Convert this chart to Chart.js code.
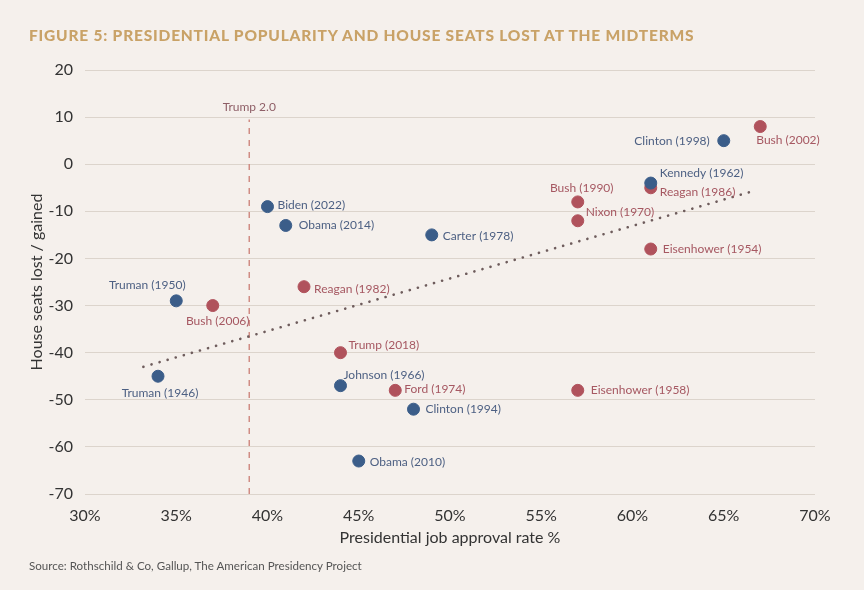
<!DOCTYPE html>
<html>
<head>
<meta charset="utf-8">
<script src="https://cdn.jsdelivr.net/npm/chart.js@4"></script>
<style>
  html, body { margin:0; padding:0; background:#f5f0ec; }
  #wrap { position:relative; width:864px; height:590px; overflow:hidden; }
  #title { position:absolute; left:29px; top:26px; font-family:Lato, sans-serif; font-weight:900; font-size:15.5px; letter-spacing:0.8px; color:#c9a267; white-space:nowrap; }
  #source { position:absolute; left:29px; top:559px; font-family:Lato, sans-serif; font-size:11.6px; color:#555; white-space:nowrap; }
  canvas { position:absolute; left:0; top:0; }
</style>
</head>
<body>
<div id="wrap">
  <canvas id="c" width="864" height="590"></canvas>
  <div id="title">FIGURE 5: PRESIDENTIAL POPULARITY AND HOUSE SEATS LOST AT THE MIDTERMS</div>
  <div id="source">Source: Rothschild &amp; Co, Gallup, The American Presidency Project</div>
</div>
<script>
// ---- data ----
const names = ['Truman (1946)','Truman (1950)','Eisenhower (1954)','Eisenhower (1958)','Kennedy (1962)','Johnson (1966)','Nixon (1970)','Ford (1974)','Carter (1978)','Reagan (1982)','Reagan (1986)','Bush (1990)','Clinton (1994)','Clinton (1998)','Bush (2002)','Bush (2006)','Obama (2010)','Obama (2014)','Trump (2018)','Biden (2022)'];
const approval = [34, 35, 61, 57, 61, 44, 57, 47, 49, 42, 61, 57, 48, 65, 67, 37, 45, 41, 44, 40];
const seats    = [-45, -29, -18, -48, -4, -47, -12, -48, -15, -26, -5, -8, -52, 5, 8, -30, -63, -13, -40, -9];
const party    = ['D','D','R','R','D','D','R','R','D','R','R','R','D','D','R','R','D','D','R','D'];
const trendX = [33.2, 66.8];
const trendY = [-43, -5.5];
const trump2X = 39;
const trump2Y = [-70, 9.5];
const trump2Label = 'Trump 2.0';
const xTicks = [30, 35, 40, 45, 50, 55, 60, 65, 70];
const yTicks = [20, 10, 0, -10, -20, -30, -40, -50, -60, -70];

// ---- label placement (style) ----
const place = {
  'Clinton (1998)': {dx:-14, dy:0, a:'right'},
  'Bush (2002)': {dx:-4, dy:14, a:'left'},
  'Kennedy (1962)': {dx:9, dy:-10, a:'left'},
  'Reagan (1986)': {dx:9, dy:4, a:'left'},
  'Bush (1990)': {dx:4, dy:-14, a:'center'},
  'Nixon (1970)': {dx:8, dy:-9, a:'left'},
  'Eisenhower (1954)': {dx:12, dy:0, a:'left'},
  'Biden (2022)': {dx:10, dy:-1, a:'left'},
  'Obama (2014)': {dx:13, dy:0, a:'left'},
  'Carter (1978)': {dx:11, dy:1, a:'left'},
  'Truman (1950)': {dx:-29, dy:-16, a:'center'},
  'Bush (2006)': {dx:5, dy:16, a:'center'},
  'Reagan (1982)': {dx:10, dy:2, a:'left'},
  'Trump (2018)': {dx:8, dy:-8, a:'left'},
  'Truman (1946)': {dx:2, dy:17, a:'center'},
  'Johnson (1966)': {dx:3, dy:-11, a:'left'},
  'Ford (1974)': {dx:9, dy:-1, a:'left'},
  'Clinton (1994)': {dx:12, dy:0, a:'left'},
  'Obama (2010)': {dx:11, dy:1, a:'left'},
  'Eisenhower (1958)': {dx:13, dy:0, a:'left'}
};
const BLUE = '#3b5d89', RED = '#b0525c';
const BLUE_T = '#4d6083', RED_T = '#a65862';

function pts(p) {
  const out = [];
  names.forEach((n, i) => { if (party[i] === p) out.push({x: approval[i], y: seats[i], name: n}); });
  return out;
}

const labelPlugin = {
  id: 'pointLabels',
  afterDatasetsDraw(chart) {
    const ctx = chart.ctx;
    const xs = chart.scales.x, ys = chart.scales.y;
    ctx.save();
    ctx.font = '12px Lato, sans-serif';
    ctx.textBaseline = 'middle';
    chart.data.datasets.forEach((ds, di) => {
      if (!ds.isPoints) return;
      const meta = chart.getDatasetMeta(di);
      meta.data.forEach((el, i) => {
        const d = ds.data[i];
        const p = place[d.name] || {dx:10, dy:0, a:'left'};
        ctx.fillStyle = ds.labelColor;
        ctx.textAlign = p.a;
        ctx.fillText(d.name, el.x + p.dx, el.y + p.dy);
      });
    });
    // Trump 2.0 label
    ctx.fillStyle = '#8e5e66';
    ctx.textAlign = 'center';
    ctx.fillText(trump2Label, xs.getPixelForValue(trump2X), ys.getPixelForValue(trump2Y[1]) - 12);
    ctx.restore();
  }
};

new Chart(document.getElementById('c'), {
  type: 'scatter',
  data: {
    datasets: [
      {
        type: 'line',
        data: trump2Y.map(v => ({x: trump2X, y: v})),
        borderColor: '#d08c84', borderWidth: 1.5, borderDash: [6, 6],
        pointRadius: 0, fill: false, order: 3
      },
      {
        type: 'line',
        data: trendX.map((v, i) => ({x: v, y: trendY[i]})),
        borderColor: '#6e5c5c', borderWidth: 2.6, borderDash: [0.1, 8.3], borderCapStyle: 'round',
        pointRadius: 0, fill: false, order: 2
      },
      {
        label: 'Democrat', data: pts('D'), isPoints: true, labelColor: BLUE_T,
        backgroundColor: BLUE, borderColor: BLUE, pointRadius: 6, order: 1
      },
      {
        label: 'Republican', data: pts('R'), isPoints: true, labelColor: RED_T,
        backgroundColor: RED, borderColor: RED, pointRadius: 6, order: 1
      }
    ]
  },
  options: {
    responsive: false,
    animation: false,
    events: [],
    layout: { padding: { top: 70, right: 49, bottom: 0, left: 0 } },
    plugins: { legend: { display: false }, tooltip: { enabled: false } },
    scales: {
      x: {
        type: 'linear', min: 30, max: 70,
        afterFit(s) { s.height = 96; },
        afterBuildTicks(s) { s.ticks = xTicks.map(v => ({value: v})); },
        grid: { display: false, drawTicks: false },
        border: { display: false },
        ticks: { padding: 12, color: '#333', font: { family: 'Lato', size: 16 }, callback: v => v + '%', maxRotation: 0 },
        title: { display: true, text: 'Presidential job approval rate %', color: '#333', font: { family: 'Lato', size: 16 }, padding: { top: 0, bottom: 43 } }
      },
      y: {
        type: 'linear', min: -70, max: 20,
        afterFit(s) { s.width = 85; },
        afterBuildTicks(s) { s.ticks = yTicks.map(v => ({value: v})); },
        grid: { color: '#dcd4cc', lineWidth: 1, drawTicks: false },
        border: { display: false },
        ticks: { padding: 12, color: '#333', font: { family: 'Lato', size: 16 } },
        title: { display: true, text: 'House seats lost / gained', color: '#333', font: { family: 'Lato', size: 16 }, padding: { top: 27, bottom: 0 } }
      }
    }
  },
  plugins: [labelPlugin]
});
</script>
</body>
</html>
